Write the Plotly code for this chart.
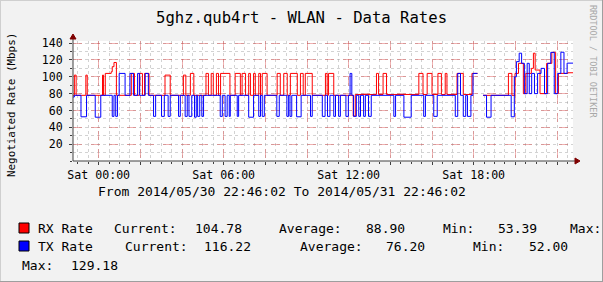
import pandas as pd
import plotly.graph_objects as go

# ---------------- data ----------------
START = pd.Timestamp("2014-05-30 22:46:02")
END = pd.Timestamp("2014-05-31 22:46:02")

# minutes after START at which the RX rate changes, and the new value (Mbps)
rx_minutes = [0, 4, 9, 37, 41, 85, 88, 93, 110, 113, 118, 125, 168, 177, 191, 200,
              206, 219, 265, 280, 318, 325, 338, 348, 383, 390, 398, 404, 413, 419,
              425, 452, 467, 482, 487, 497, 506, 511, 520, 525, 535, 540, 545, 559,
              588, 597, 607, 617, 626, 646, 655, 663, 669, 689, 727, 732, 736, 751,
              807, 813, 874, 880, 893, 903, 996, 1008, 1020, 1034, 1051, 1061, 1072,
              1077, 1106, 1124, 1149, 1165, 1166, 1181, 1254, 1264, 1273, 1283, 1297,
              1304, 1320, 1326, 1331, 1345, 1364, 1379, 1390, 1398, 1425, 1440]
rx_values = [78, 102, 78, 102, 78, 102, 78, 104, 106, 112, 117, 78, 104, 78, 104, 78,
             104, 78, 102, 78, 102, 78, 104, 78, 104, 78, 104, 78, 104, 78,
             104, 78, 104, 78, 104, 78, 104, 78, 104, 78, 104, 78, 104, 78,
             104, 78, 104, 78, 104, 78, 104, 78, 104, 78, 104, 78, 104, 78,
             53.39, 79, 104, 79, 104, 79, 104, 79, 104, 79, 104, 79, 104,
             79, 104, 79, 104, 104, None, 78, 104, 78, 104, 116, 80,
             104, 110, 128, 108, 80, 116, 129, 80, 104, 104.78, 104.78]

tx_minutes = [0, 4, 23, 39, 64, 80, 113, 118, 123, 128, 133, 150, 164, 174, 186, 192,
              208, 217, 232, 238, 255, 263, 274, 280, 304, 309, 323, 329, 334, 342,
              350, 355, 359, 365, 371, 376, 424, 430, 438, 444, 450, 453, 473, 477,
              506, 520, 535, 540, 545, 551, 587, 594, 616, 621, 625, 630, 644, 657,
              684, 689, 718, 726, 733, 740, 751, 756, 765, 770, 786, 793, 798, 803,
              808, 816, 823, 828, 837, 842, 851, 859, 924, 929, 953, 974, 1010, 1015,
              1039, 1049, 1101, 1108, 1116, 1124, 1131, 1136, 1146, 1152, 1165, 1166,
              1181, 1191, 1204, 1262, 1271, 1277, 1285, 1292, 1300, 1308, 1314, 1321,
              1329, 1338, 1348, 1358, 1367, 1376, 1386, 1396, 1405, 1414, 1423, 1440]
tx_values = [76, 78, 52.5, 78, 52, 78, 53, 78, 53, 78, 104, 78, 104, 78, 104, 78,
             104, 78, 53, 78, 53, 78, 53, 78, 53, 78, 53, 78, 53, 78,
             52, 78, 53, 78, 53, 78, 53, 78, 53, 78, 53, 78, 53, 78,
             52, 78, 53, 78, 53, 78, 53, 78, 53, 78, 53, 78, 52.5, 78,
             53, 78, 53, 78, 53, 78, 53, 78, 53, 78, 53, 78, 104, 78,
             53, 78, 53, 78, 53, 78, 53, 78, 53, 78, 52, 78, 53, 78,
             53, 78, 53, 104, 78, 53, 78, 53, 78, 104, 104, None,
             78, 52, 78, 52.5, 100, 118, 128, 116, 80, 116, 80, 104,
             80, 104, 110, 80, 116, 129, 80, 104, 129.18, 104, 116.22, 116.22]

x_tick_times = ["2014-05-31 00:00", "2014-05-31 02:00", "2014-05-31 04:00",
                "2014-05-31 06:00", "2014-05-31 08:00", "2014-05-31 10:00",
                "2014-05-31 12:00", "2014-05-31 14:00", "2014-05-31 16:00",
                "2014-05-31 18:00", "2014-05-31 20:00", "2014-05-31 22:00"]
x_tick_labels = ["Sat 00:00", "", "", "Sat 06:00", "", "", "Sat 12:00", "", "",
                 "Sat 18:00", "", ""]
y_tick_values = [20, 40, 60, 80, 100, 120, 140]
y_tick_labels = ["20", "40", "60", "80", "100", "120", "140"]

title_text = "5ghz.qub4rt - WLAN - Data Rates"
y_title = "Negotiated Rate (Mbps)"
period_text = "From 2014/05/30 22:46:02 To 2014/05/31 22:46:02"
series_names = ["RX Rate", "TX Rate"]
series_colors = ["#FF0000", "#0000FF"]
rx_stats = ["104.78", "88.90", "53.39"]
tx_stats = ["116.22", "76.20", "52.00"]
tx_max = "129.18"

# ---------------- layout helpers ----------------
FONT = "DejaVu Sans Mono"
L, R, T, B = 73, 30, 41, 121
W, H = 603, 282
PW, PH = W - L - R, H - T - B


def fx(px):
    return (px - L) / PW


def fy(py):
    return (T + PH - py) / PH


rx_t = START + pd.to_timedelta(rx_minutes, unit="m")
tx_t = START + pd.to_timedelta(tx_minutes, unit="m")

fig = go.Figure()
fig.add_trace(go.Scatter(x=rx_t, y=rx_values, mode="lines", connectgaps=False,
                         line=dict(color=series_colors[0], width=1, shape="hv"),
                         hoverinfo="skip"))
fig.add_trace(go.Scatter(x=tx_t, y=tx_values, mode="lines", connectgaps=False,
                         line=dict(color=series_colors[1], width=1, shape="hv"),
                         hoverinfo="skip"))

MGRID = "rgba(222,80,80,0.45)"
GRID = "rgba(143,143,143,0.40)"
AXIS = "#404040"

fig.update_layout(
    width=W, height=H,
    margin=dict(l=L, r=R, t=T, b=B, pad=0),
    paper_bgcolor="#F2F2F2", plot_bgcolor="#FFFFFF",
    showlegend=False,
    font=dict(family=FONT, color="#000000"),
    xaxis=dict(
        type="date", range=[START, END], tickmode="array",
        tickvals=x_tick_times, ticktext=x_tick_labels,
        showgrid=True, gridcolor=MGRID, griddash="dash", gridwidth=1,
        ticks="outside", ticklen=3, tickcolor=AXIS,
        tickfont=dict(family=FONT, size=11.6, color="#000000"),
        showline=False, zeroline=False,
        minor=dict(tick0="2014-05-31 00:00", dtick=1800000, showgrid=True,
                   gridcolor=GRID, griddash="dot", gridwidth=1,
                   ticks="outside", ticklen=2, tickcolor=AXIS),
    ),
    yaxis=dict(
        range=[0, 142.5], tickmode="array",
        tickvals=y_tick_values, ticktext=y_tick_labels,
        showgrid=True, gridcolor=MGRID, griddash="dash", gridwidth=1,
        ticks="outside", ticklen=3, tickcolor=AXIS, ticklabelstandoff=4,
        tickfont=dict(family=FONT, size=11.6, color="#000000"),
        showline=False, zeroline=False,
        minor=dict(tick0=0, dtick=10, showgrid=True, gridcolor=GRID,
                   griddash="dot", gridwidth=1, ticks="outside", ticklen=2,
                   tickcolor=AXIS),
    ),
)

shapes = []
# axes with arrows
shapes.append(dict(type="line", xref="paper", yref="paper", x0=fx(73), x1=fx(576),
                   y0=fy(161), y1=fy(161), line=dict(color=AXIS, width=1)))
shapes.append(dict(type="line", xref="paper", yref="paper", x0=fx(73), x1=fx(73),
                   y0=fy(161), y1=fy(38), line=dict(color=AXIS, width=1)))
shapes.append(dict(type="path", xref="paper", yref="paper",
                   path=f"M {fx(575)} {fy(158)} L {fx(580)} {fy(161)} L {fx(575)} {fy(164)} Z",
                   fillcolor="#7F0000", line=dict(color="#7F0000", width=1)))
shapes.append(dict(type="path", xref="paper", yref="paper",
                   path=f"M {fx(70)} {fy(39)} L {fx(73)} {fy(34)} L {fx(76)} {fy(39)} Z",
                   fillcolor="#7F0000", line=dict(color="#7F0000", width=1)))
# 3D frame of the image
shapes.append(dict(type="line", xref="paper", yref="paper", x0=fx(0), x1=fx(603),
                   y0=fy(0.5), y1=fy(0.5), line=dict(color="#CFCFCF", width=1)))
shapes.append(dict(type="line", xref="paper", yref="paper", x0=fx(0.5), x1=fx(0.5),
                   y0=fy(0), y1=fy(282), line=dict(color="#CFCFCF", width=1)))
shapes.append(dict(type="line", xref="paper", yref="paper", x0=fx(602.5), x1=fx(602.5),
                   y0=fy(0), y1=fy(282), line=dict(color="#9E9E9E", width=1)))
shapes.append(dict(type="line", xref="paper", yref="paper", x0=fx(0), x1=fx(603),
                   y0=fy(281.5), y1=fy(281.5), line=dict(color="#9E9E9E", width=1)))
# legend colour boxes
for i, yc in enumerate([228, 246]):
    shapes.append(dict(type="rect", xref="paper", yref="paper",
                       x0=fx(19), x1=fx(29), y0=fy(yc + 5), y1=fy(yc - 5),
                       fillcolor=series_colors[i], line=dict(color="#000000", width=1)))
fig.update_layout(shapes=shapes)

ann = []


def text(s, px, py, size=13, anchor="left", color="#000000", angle=0):
    ann.append(dict(text=s, xref="paper", yref="paper", x=fx(px), y=fy(py),
                    xanchor=anchor, yanchor="middle", showarrow=False,
                    textangle=angle, font=dict(family=FONT, size=size, color=color)))


text(title_text, 301.5, 18, size=15.6, anchor="center")
text(y_title, 11, 105, size=10.9, anchor="center", angle=-90)
text("RRDTOOL / TOBI OETIKER", 593, 61, size=8.5, anchor="center", color="#A8A8A8", angle=90)
text(period_text, 96, 191, size=13)

# legend rows
text(series_names[0], 36, 228)
text("Current:", 112, 228)
text(rx_stats[0], 193, 228)
text("Average:", 277, 228)
text(rx_stats[1], 364, 228)
text("Min:", 441, 228)
text(rx_stats[2], 496, 228)
text("Max:", 568, 228)

text(series_names[1], 36, 246)
text("Current:", 123, 246)
text(tx_stats[0], 202, 246)
text("Average:", 298, 246)
text(tx_stats[1], 384, 246)
text("Min:", 471, 246)
text(tx_stats[2], 527, 246)

text("Max:", 20, 265)
text(tx_max, 69, 265)

fig.update_layout(annotations=ann)
fig.write_html("out.html")
